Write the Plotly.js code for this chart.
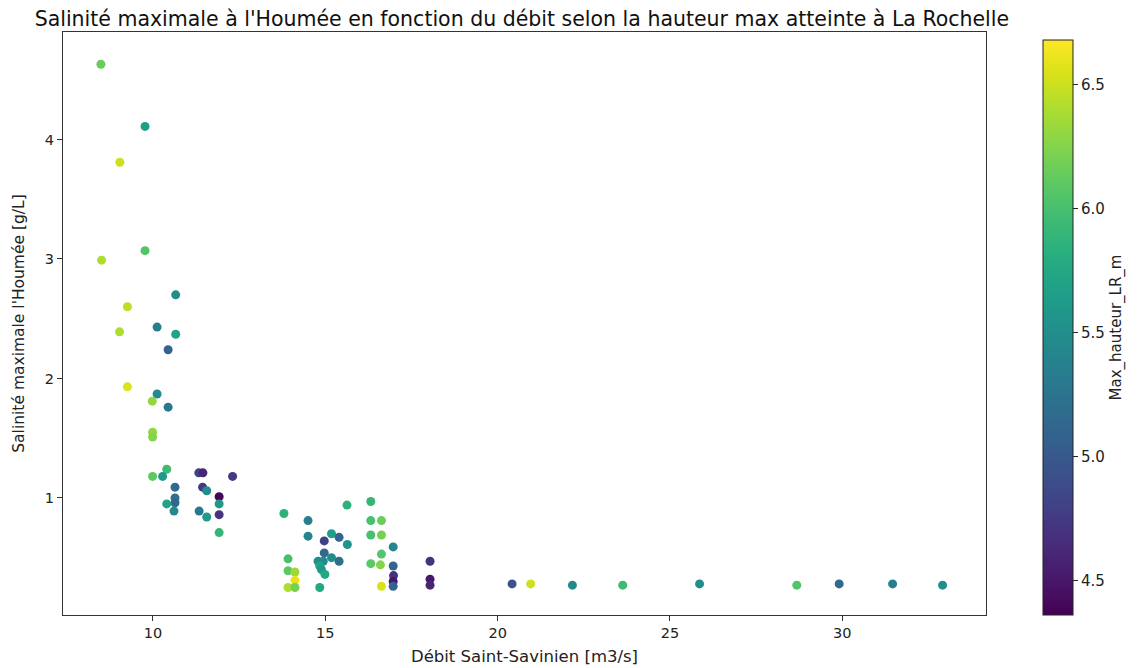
<!DOCTYPE html>
<html>
<head>
<meta charset="utf-8">
<script src="https://cdn.plot.ly/plotly-3.0.1.min.js"></script>
<style>html,body{margin:0;padding:0;background:#fff;}#chart{width:1137px;height:668px;}</style>
</head>
<body>
<div id="chart"></div>
<script>
// Débit Saint-Savinien [m3/s]
const debit = [
  8.49, 9.77, 9.04, 8.51, 9.77, 10.66, 9.26, 9.03, 10.12, 10.66,
  10.44, 9.26, 10.12, 9.98, 10.44, 9.99, 9.99, 9.99, 10.40, 10.28,
  11.33, 11.45, 12.31, 10.64, 11.44, 11.56, 11.92, 11.92, 10.64, 10.64,
  10.40, 10.61, 11.34, 11.56, 11.92, 11.92, 13.80, 14.50, 14.50, 13.92,
  13.92, 14.12, 14.12, 13.92, 14.12, 15.63, 16.32, 16.32, 16.63, 16.32,
  16.63, 16.63, 16.32, 16.60, 16.63, 16.97, 16.97, 16.98, 16.97, 16.97,
  18.04, 18.04, 18.04, 15.18, 15.40, 14.97, 15.64, 14.97, 14.94, 14.79,
  14.84, 15.18, 15.40, 14.89, 14.99, 14.84, 20.42, 20.96, 22.17, 23.63,
  25.86, 28.68, 29.91, 31.46, 32.91
];
// Salinité maximale l'Houmée [g/L]
const salinite = [
  4.63, 4.11, 3.81, 2.99, 3.07, 2.70, 2.60, 2.39, 2.43, 2.37,
  2.24, 1.93, 1.87, 1.81, 1.76, 1.55, 1.51, 1.18, 1.24, 1.18,
  1.21, 1.21, 1.18, 1.09, 1.09, 1.06, 1.01, 0.95, 1.00, 0.96,
  0.95, 0.89, 0.89, 0.84, 0.86, 0.71, 0.87, 0.81, 0.68, 0.49,
  0.39, 0.38, 0.31, 0.25, 0.25, 0.94, 0.97, 0.81, 0.81, 0.69,
  0.69, 0.53, 0.45, 0.44, 0.26, 0.59, 0.43, 0.35, 0.30, 0.26,
  0.47, 0.32, 0.27, 0.70, 0.67, 0.64, 0.61, 0.54, 0.47, 0.47,
  0.43, 0.50, 0.47, 0.40, 0.36, 0.25, 0.28, 0.28, 0.27, 0.27,
  0.28, 0.27, 0.28, 0.28, 0.27
];
// Max_hauteur_LR_m
const hauteur = [
  6.15, 5.65, 6.50, 6.40, 6.05, 5.50, 6.45, 6.40, 5.35, 5.70,
  5.10, 6.55, 5.45, 6.30, 5.30, 6.30, 6.25, 6.10, 5.95, 5.60,
  4.80, 4.60, 4.75, 5.15, 4.75, 5.50, 4.40, 5.60, 5.20, 5.15,
  5.70, 5.45, 5.30, 5.60, 4.70, 5.90, 5.85, 5.35, 5.40, 6.00,
  6.10, 6.35, 6.60, 6.40, 6.20, 5.85, 5.90, 6.00, 6.15, 6.00,
  6.20, 6.05, 6.10, 6.25, 6.55, 5.40, 5.10, 4.70, 4.50, 5.10,
  4.70, 4.50, 4.60, 5.65, 5.10, 4.80, 5.55, 5.15, 5.45, 5.50,
  5.70, 5.50, 5.20, 5.60, 5.75, 5.75, 4.95, 6.50, 5.45, 5.95,
  5.50, 6.05, 5.15, 5.35, 5.50
];
const xTicks = [10, 15, 20, 25, 30];
const yTicks = [1, 2, 3, 4];
const cTicks = [4.5, 5.0, 5.5, 6.0, 6.5];

const font = 'DejaVu Sans, sans-serif';
const trace = {
  type: 'scatter', mode: 'markers',
  x: debit, y: salinite,
  marker: {
    size: 9, color: hauteur, colorscale: 'Viridis', cmin: 4.36, cmax: 6.68,
    line: {width: 0},
    colorbar: {
      title: {text: 'Max_hauteur_LR_m', side: 'right', font: {family: font, size: 15, color: '#222'}},
      thickness: 30, thicknessmode: 'pixels',
      len: 575, lenmode: 'pixels',
      x: 1.0606, xanchor: 'left', xpad: 0,
      y: 0.9863, yanchor: 'top', ypad: 0,
      outlinewidth: 1, outlinecolor: '#222',
      tickvals: cTicks, tickformat: '.1f',
      ticks: 'outside', ticklen: 5, tickcolor: '#222',
      tickfont: {family: font, size: 15, color: '#222'}
    }
  },
  hoverinfo: 'x+y'
};
const layout = {
  width: 1137, height: 668,
  margin: {l: 63, r: 150, t: 32, b: 53},
  paper_bgcolor: '#fff', plot_bgcolor: '#fff',
  showlegend: false,
  title: {text: "Salinité maximale à l'Houmée en fonction du débit selon la hauteur max atteinte à La Rochelle",
          font: {family: font, size: 20.5, color: '#111'}, x: 0.459, xanchor: 'center', y: 0.972, yanchor: 'middle'},
  xaxis: {
    range: [7.39, 34.17], tickvals: xTicks, showgrid: false, zeroline: false,
    showline: true, mirror: true, linecolor: '#333', linewidth: 1,
    ticks: 'outside', ticklen: 5, tickcolor: '#333',
    tickfont: {family: font, size: 14.5, color: '#222'},
    title: {text: 'Débit Saint-Savinien [m3/s]', font: {family: font, size: 16.5, color: '#222'}, standoff: 10}
  },
  yaxis: {
    range: [0.02, 4.90], tickvals: yTicks, showgrid: false, zeroline: false,
    showline: true, mirror: true, linecolor: '#333', linewidth: 1,
    ticks: 'outside', ticklen: 5, tickcolor: '#333',
    tickfont: {family: font, size: 14.5, color: '#222'},
    title: {text: "Salinité maximale l'Houmée [g/L]", font: {family: font, size: 15.5, color: '#222'}, standoff: 16}
  }
};
Plotly.newPlot('chart', [trace], layout, {displayModeBar: false, staticPlot: true});
</script>
</body>
</html>
